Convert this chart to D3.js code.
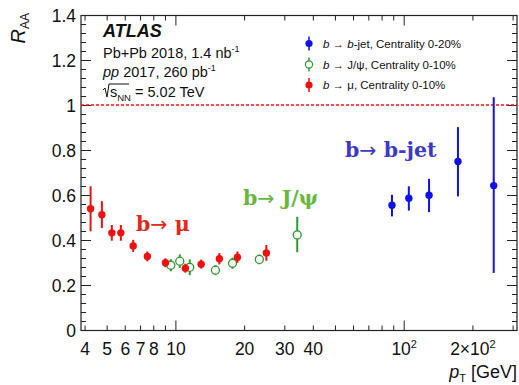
<!DOCTYPE html>
<html>
<head>
<meta charset="utf-8">
<script src="https://cdn.jsdelivr.net/npm/d3@7"></script>
<style>
  body { margin: 0; background: #fff; }
  svg { display: block; font-family: "Liberation Sans", Arial, sans-serif; }
</style>
</head>
<body>
<svg id="chart" width="519" height="385"></svg>
<script>
// b -> mu, centrality 0-10%
const muPt = [4.23, 4.74, 5.24, 5.74, 6.5, 7.5, 9.0, 11.0, 12.9, 15.5, 18.6, 24.9];
const muRaa = [0.541, 0.515, 0.434, 0.434, 0.376, 0.329, 0.301, 0.277, 0.295, 0.319, 0.326, 0.345];
const muErr = [0.10, 0.06, 0.035, 0.035, 0.027, 0.022, 0.02, 0.02, 0.02, 0.025, 0.025, 0.035];

// b -> J/psi, centrality 0-10%
const jpsiPt = [9.5, 10.4, 11.5, 14.9, 17.7, 23.2, 34.0];
const jpsiRaa = [0.29, 0.308, 0.281, 0.268, 0.299, 0.316, 0.425];
const jpsiErrUp = [0.027, 0.03, 0.035, 0.022, 0.025, 0.022, 0.08];
const jpsiErrDn = [0.027, 0.03, 0.035, 0.022, 0.025, 0.022, 0.077];

// b -> b-jet, centrality 0-20%
const jetPt = [88.4, 104.8, 128.5, 172, 246.7];
const jetRaa = [0.557, 0.588, 0.601, 0.751, 0.644];
const jetErrUp = [0.046, 0.053, 0.073, 0.153, 0.393];
const jetErrDn = [0.05, 0.055, 0.075, 0.155, 0.388];

const xTickLabels = [4, 5, 6, 7, 8, 10, 20, 30, 40, 100, 200];
const xMinorTicks = [9, 50, 60, 70, 80, 90, 300];
const yTicks = [0, 0.2, 0.4, 0.6, 0.8, 1, 1.2, 1.4];

const svg = d3.select("#chart");
const margin = { top: 15.5, right: 2, bottom: 54.5, left: 81 };
const W = 519, H = 385;

const x = d3.scaleLog().domain([3.84, 312]).range([margin.left, W - margin.right]);
const y = d3.scaleLinear().domain([0, 1.4]).range([H - margin.bottom, margin.top]);

const axisCol = "#222";

// frame
svg.append("rect")
  .attr("x", x.range()[0]).attr("y", y.range()[1])
  .attr("width", x.range()[1] - x.range()[0])
  .attr("height", y.range()[0] - y.range()[1])
  .attr("fill", "none").attr("stroke", axisCol).attr("stroke-width", 1.2);

// y ticks (left + right, inward)
const yMinor = d3.range(0, 1.4001, 0.04);
const yt = svg.append("g");
yMinor.forEach(v => {
  const major = yTicks.some(t => Math.abs(t - v) < 1e-6);
  const len = major ? 10 : 5;
  yt.append("line").attr("x1", x.range()[0]).attr("x2", x.range()[0] + len)
    .attr("y1", y(v)).attr("y2", y(v)).attr("stroke", axisCol);
  yt.append("line").attr("x1", x.range()[1]).attr("x2", x.range()[1] - len)
    .attr("y1", y(v)).attr("y2", y(v)).attr("stroke", axisCol);
});
yTicks.forEach(v => {
  yt.append("text").attr("x", x.range()[0] - 5).attr("y", y(v) + 6)
    .attr("text-anchor", "end").attr("font-size", 17.5).attr("fill", "#111")
    .text(d3.format("~g")(v));
});

// x ticks (bottom + top, inward)
const xt = svg.append("g");
xTickLabels.concat(xMinorTicks).forEach(v => {
  const len = (v === 10 || v === 100) ? 10 : 5;
  xt.append("line").attr("x1", x(v)).attr("x2", x(v))
    .attr("y1", y.range()[0]).attr("y2", y.range()[0] - len).attr("stroke", axisCol);
  xt.append("line").attr("x1", x(v)).attr("x2", x(v))
    .attr("y1", y.range()[1]).attr("y2", y.range()[1] + len).attr("stroke", axisCol);
});
xTickLabels.forEach(v => {
  const t = xt.append("text").attr("x", x(v)).attr("y", H - margin.bottom + 24)
    .attr("text-anchor", "middle").attr("font-size", 17.5).attr("fill", "#111");
  if (v === 100) {
    t.text("10");
    t.append("tspan").attr("dy", -7).attr("font-size", 11).text("2");
  } else if (v === 200) {
    t.text("2\u00d710");
    t.append("tspan").attr("dy", -7).attr("font-size", 11).text("2");
  } else {
    t.text(v);
  }
});

// axis titles
const xl = svg.append("text").attr("x", W - 2).attr("y", 378)
  .attr("text-anchor", "end").attr("font-size", 18).attr("fill", "#111");
xl.append("tspan").attr("font-style", "italic").text("p");
xl.append("tspan").attr("font-size", 11).attr("dy", 4).text("T");
xl.append("tspan").attr("dy", -4).text(" [GeV]");

const yl = svg.append("text").attr("transform", "translate(25,13) rotate(-90)")
  .attr("text-anchor", "end").attr("font-size", 20).attr("fill", "#111");
yl.append("tspan").attr("font-style", "italic").text("R");
yl.append("tspan").attr("font-size", 12).attr("dy", 4).text("AA");

// reference line at 1
svg.append("line").attr("x1", x.range()[0]).attr("x2", x.range()[1])
  .attr("y1", Math.round(y(1))).attr("y2", Math.round(y(1)))
  .attr("stroke", "#ff1010").attr("stroke-width", 1.6).attr("stroke-dasharray", "3,2");

// data series
function drawSeries(pt, val, up, dn, color, open) {
  const g = svg.append("g");
  pt.forEach((p, i) => {
    g.append("line").attr("x1", x(p)).attr("x2", x(p))
      .attr("y1", y(val[i] + up[i])).attr("y2", y(val[i] - dn[i]))
      .attr("stroke", color).attr("stroke-width", 2);
  });
  pt.forEach((p, i) => {
    g.append("circle").attr("cx", x(p)).attr("cy", y(val[i]))
      .attr("r", open ? 4 : 3.7)
      .attr("fill", open ? "#fff" : color)
      .attr("stroke", color).attr("stroke-width", open ? 1.3 : 0);
  });
}
const red = "#f01010", green = "#2e9a2e", blue = "#1010e8";
drawSeries(jpsiPt, jpsiRaa, jpsiErrUp, jpsiErrDn, green, true);
drawSeries(muPt, muRaa, muErr, muErr, red, false);
drawSeries(jetPt, jetRaa, jetErrUp, jetErrDn, blue, false);

// ATLAS block
svg.append("text").attr("x", 103).attr("y", 37).attr("font-size", 18)
  .attr("font-weight", "bold").attr("font-style", "italic").attr("fill", "#111").text("ATLAS");
const info = [
  { y: 58, parts: [["Pb+Pb 2018, 1.4 nb", ""], ["-1", "sup"]] },
  { y: 77, parts: [["pp", "it"], [" 2017, 260 pb", ""], ["-1", "sup"]] }
];
info.forEach(r => {
  const t = svg.append("text").attr("x", 103).attr("y", r.y).attr("font-size", 14.5).attr("fill", "#111");
  r.parts.forEach(([s, k]) => {
    const ts = t.append("tspan").text(s);
    if (k === "it") ts.attr("font-style", "italic");
    if (k === "sup") ts.attr("dy", -6).attr("font-size", 9);
  });
});
// sqrt(s_NN)
svg.append("path").attr("d", "M103,90 L105,88 L107,97 L109,84 L129,84")
  .attr("fill", "none").attr("stroke", "#111").attr("stroke-width", 1);
const st = svg.append("text").attr("x", 110).attr("y", 97).attr("font-size", 14.5).attr("fill", "#111");
st.append("tspan").text("s");
st.append("tspan").attr("dy", 4).attr("font-size", 9.5).text("NN");
st.append("tspan").attr("dy", -4).text(" = 5.02 TeV");

// legend
const legend = [
  { color: blue, open: false, parts: [["b", "it"], [" \u2192 ", ""], ["b", "it"], ["-jet, Centrality 0-20%", ""]] },
  { color: green, open: true, parts: [["b", "it"], [" \u2192 J/\u03c8, Centrality 0-10%", ""]] },
  { color: red, open: false, parts: [["b", "it"], [" \u2192 \u03bc, Centrality 0-10%", ""]] }
];
const legY = [43.5, 64.5, 85];
legend.forEach((l, i) => {
  const cy = legY[i];
  svg.append("line").attr("x1", 309).attr("x2", 309).attr("y1", cy - 7).attr("y2", cy + 7)
    .attr("stroke", l.color).attr("stroke-width", 1.5);
  svg.append("circle").attr("cx", 309).attr("cy", cy).attr("r", 3.6)
    .attr("fill", l.open ? "#fff" : l.color).attr("stroke", l.color).attr("stroke-width", l.open ? 1.2 : 0);
  const t = svg.append("text").attr("x", 323).attr("y", cy + 4).attr("font-size", 11.5).attr("fill", "#111");
  l.parts.forEach(([s, k]) => {
    const ts = t.append("tspan").text(s);
    if (k === "it") ts.attr("font-style", "italic");
  });
});

// process labels
const labels = [
  { x: 345, y: 157, color: "#3a3ac6", a: "b", b: "b-jet" },
  { x: 243, y: 205, color: "#68b83c", a: "b", b: "J/\u03c8" },
  { x: 136, y: 231, color: "#de2a1c", a: "b", b: "\u03bc" }
];
labels.forEach(l => {
  const t = svg.append("text").attr("x", l.x).attr("y", l.y)
    .attr("font-family", "'DejaVu Serif', serif").attr("font-weight", "bold")
    .attr("font-size", 20.5).attr("fill", l.color);
  t.append("tspan").text(l.a);
  t.append("tspan").attr("font-weight", "normal").attr("font-family", "'DejaVu Sans', sans-serif").text("\u2192");
  t.append("tspan").text(" " + l.b);
});
</script>
</body>
</html>
